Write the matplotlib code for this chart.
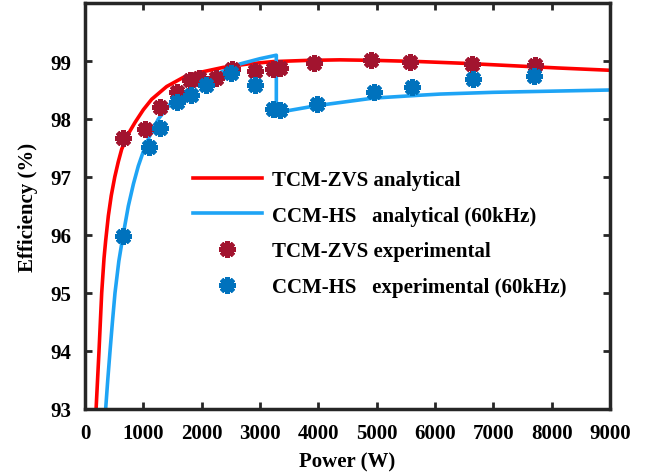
import matplotlib
matplotlib.use('Agg')
import matplotlib.pyplot as plt

plt.rcParams['font.family'] = ['Liberation Serif', 'DejaVu Serif']
plt.rcParams['font.weight'] = 'bold'

# analytical curves
p_tcm = [190, 240, 286, 326, 354, 400, 450, 510, 570, 629, 740, 857, 1000, 1143, 1400,
         1690, 2000, 2370, 2800, 3230, 3800, 4370, 5000, 5740, 6500, 7300, 8100, 9000]
e_tcm = [93.0, 94.0, 95.0, 95.6, 95.9, 96.33, 96.68, 97.0, 97.26, 97.48, 97.74, 97.94,
         98.16, 98.34, 98.56, 98.72, 98.81, 98.89, 98.95, 98.99, 99.01, 99.02, 99.01,
         98.99, 98.96, 98.92, 98.88, 98.84]

p_ccm = [354, 390, 429, 470, 514, 580, 657, 743, 830, 914, 1000, 1086, 1257, 1486, 1800,
         2090, 2400, 2660, 3000, 3280, 3280, 3460, 3970, 4940, 5740, 6090, 7000, 8000, 9000]
e_ccm = [93.0, 93.5, 94.0, 94.5, 95.0, 95.55, 96.02, 96.5, 96.88, 97.19, 97.44, 97.66,
         98.0, 98.29, 98.52, 98.69, 98.84, 98.95, 99.04, 99.10, 98.14, 98.14, 98.23,
         98.36, 98.41, 98.43, 98.46, 98.48, 98.50]

# experimental points
p_tcm_exp = [650, 1030, 1290, 1570, 1800, 1950, 2240, 2520, 2920, 3220, 3340, 3930,
             4910, 5570, 6640, 7710]
e_tcm_exp = [97.67, 97.83, 98.2, 98.46, 98.68, 98.7, 98.71, 98.86, 98.83, 98.86, 98.88,
             98.97, 99.02, 98.99, 98.95, 98.93]

p_ccm_exp = [650, 1100, 1290, 1580, 1820, 2070, 2510, 2920, 3230, 3340, 3970, 4950,
             5610, 6650, 7700]
e_ccm_exp = [95.99, 97.51, 97.84, 98.29, 98.41, 98.59, 98.79, 98.59, 98.17, 98.16, 98.26,
             98.47, 98.56, 98.69, 98.75]

fig = plt.figure(figsize=(6.6, 4.77), dpi=100)
ax = fig.add_axes([0.1288, 0.1405, 0.7954, 0.8511])

ax.plot(p_tcm, e_tcm, color='#ff0000', lw=2.6, label='TCM-ZVS analytical', zorder=2)
ax.plot(p_ccm, e_ccm, color='#1ea4f5', lw=2.6, label='CCM-HS   analytical (60kHz)', zorder=2)
ax.plot(p_tcm_exp, e_tcm_exp, ls='none', marker=(8, 2, 0), ms=12, mew=3.4,
        color='#a2142f', label='TCM-ZVS experimental', zorder=3)
ax.plot(p_ccm_exp, e_ccm_exp, ls='none', marker=(8, 2, 0), ms=12, mew=3.4,
        color='#0072bd', label='CCM-HS   experimental (60kHz)', zorder=3)

ax.set_xlim(0, 9000)
ax.set_ylim(93, 100)
ax.set_xticks(range(0, 9001, 1000))
ax.set_yticks(range(93, 100))
ax.tick_params(direction='in', length=5, width=2, top=True, right=True,
               labelsize=15, colors='#262626', pad=10)
for lab in ax.get_xticklabels() + ax.get_yticklabels():
    lab.set_fontweight('bold')
    lab.set_color('black')
for s in ax.spines.values():
    s.set_linewidth(2.5)
    s.set_color('#262626')

ax.set_xlabel('Power (W)', fontsize=15, fontweight='bold', labelpad=6)
ax.set_ylabel('Efficiency (%)', fontsize=15, fontweight='bold', labelpad=9)

leg = ax.legend(loc='upper left', bbox_to_anchor=(0.17, 0.635), frameon=False,
                fontsize=15, handlelength=3.3, handletextpad=0.5, labelspacing=0.75,
                numpoints=1)
for t in leg.get_texts():
    t.set_fontweight('bold')

fig.savefig('out.png', dpi=100)
